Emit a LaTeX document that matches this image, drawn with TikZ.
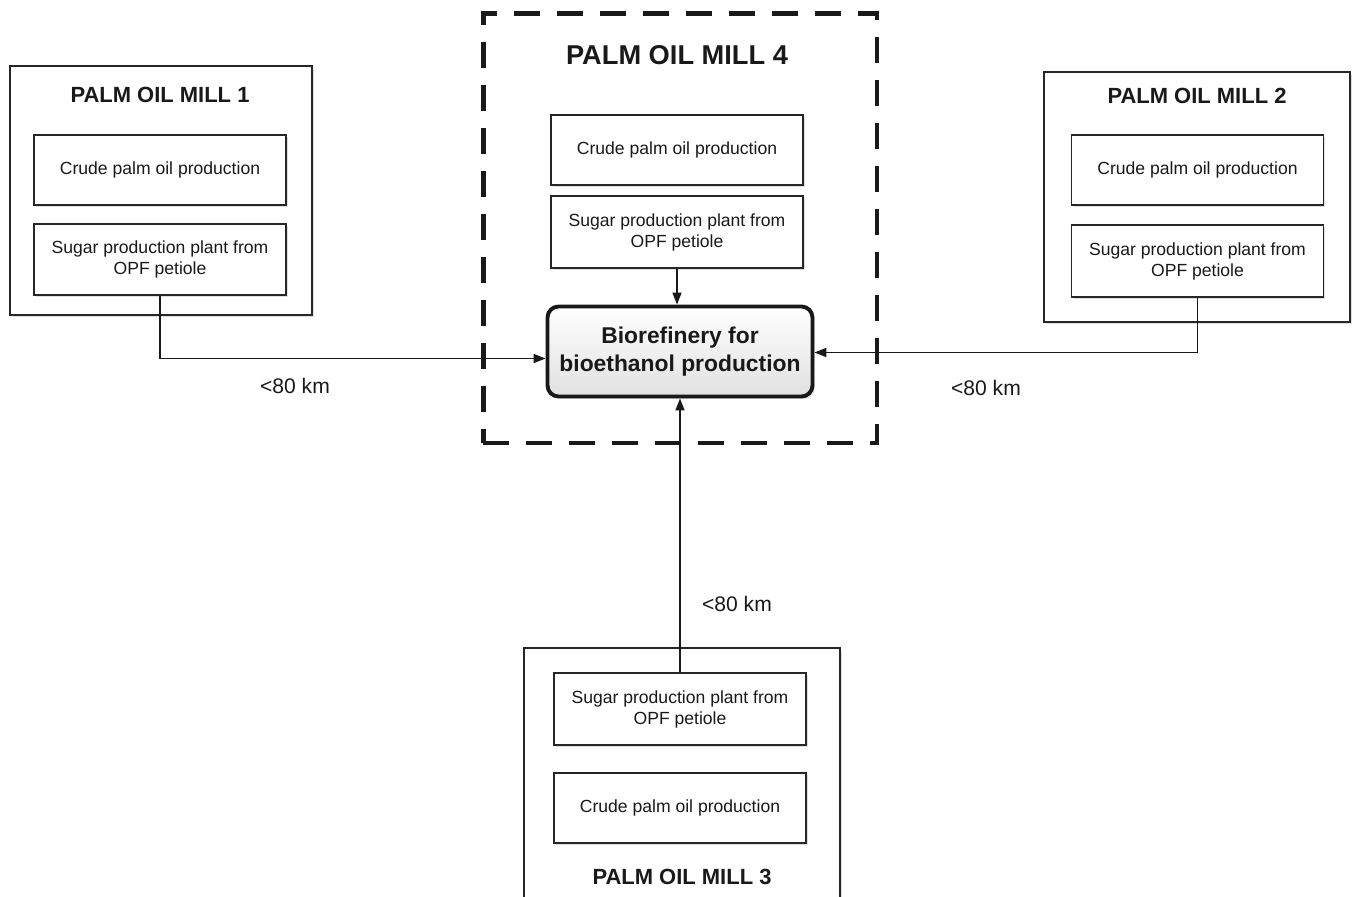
\documentclass[tikz,border=0pt]{standalone}
\usepackage{fontspec}
\setmainfont{Liberation Sans}
\usetikzlibrary{arrows.meta,shadows}

\begin{document}
\begin{tikzpicture}[x=0.02cm,y=-0.02cm]
\tikzset{
    millbox/.style={draw=black!85, line width=0.9pt, fill=white, inner sep=0pt,
        drop shadow={shadow xshift=0.05cm, shadow yshift=-0.05cm, opacity=0.25}},
    unitbox/.style={draw=black!85, line width=0.8pt, fill=white, align=center,
        minimum width=5.04cm, minimum height=1.4cm, inner sep=0pt,
        font=\fontsize{10}{12}\selectfont, text=black!90,
        drop shadow={shadow xshift=0.04cm, shadow yshift=-0.04cm, opacity=0.25}},
    millhead/.style={font=\fontsize{12.5}{15}\selectfont\bfseries, text=black!90},
    hubbox/.style={draw=black!90, line width=2.2pt, rounded corners=0.22cm,
        top color=white, bottom color=black!12, align=center,
        minimum width=5.3cm, minimum height=1.8cm, inner sep=0pt,
        font=\fontsize{13}{16}\selectfont\bfseries, text=black!90,
        drop shadow={shadow xshift=0.05cm, shadow yshift=-0.05cm, opacity=0.25}},
    conn/.style={draw=black!90, line width=0.9pt, -{Triangle[length=2.4mm, width=1.8mm]}},
    distlabel/.style={font=\fontsize{12}{14}\selectfont, text=black!90}}

\clip (0,0) rectangle (1352,896);

% mill 1
\node[millbox, minimum width=6.04cm, minimum height=4.98cm] (mill1) at (161,190.5) {};
\node[millhead] (head1) at (160,95) {PALM OIL MILL 1};
\node[unitbox] (cpo1) at (160,170) {Crude palm oil production};
\node[unitbox, minimum height=1.42cm] (sug1) at (160,259.5) {Sugar production plant from\\OPF petiole};

% mill 2
\node[millbox, minimum width=6.12cm, minimum height=5cm] (mill2) at (1197,197) {};
\node[millhead] (head2) at (1197,96) {PALM OIL MILL 2};
\node[unitbox] (cpo2) at (1197.5,170) {Crude palm oil production};
\node[unitbox, minimum height=1.44cm] (sug2) at (1197.5,261) {Sugar production plant from\\OPF petiole};

% mill 3
\node[millbox, minimum width=6.32cm, minimum height=5.3cm] (mill3) at (682,780.5) {};
\node[millhead] (head3) at (682,877) {PALM OIL MILL 3};
\node[unitbox, minimum height=1.44cm] (sug3) at (680,709) {Sugar production plant from\\OPF petiole};
\node[unitbox] (cpo3) at (680,808) {Crude palm oil production};

% mill 4 with the biorefinery
\node[draw=black!90, line width=2.8pt, dash pattern=on 0.52cm off 0.34cm,
    minimum width=7.88cm, minimum height=8.6cm, inner sep=0pt] (mill4) at (680,228) {};
\node[millhead, font=\fontsize{15.5}{18}\selectfont\bfseries] (head4) at (677,55) {PALM OIL MILL 4};
\node[unitbox] (cpo4) at (677,150) {Crude palm oil production};
\node[unitbox, minimum height=1.44cm] (sug4) at (677,232) {Sugar production plant from\\OPF petiole};
\node[hubbox] (bio) at (680,351.5) {Biorefinery for\\bioethanol production};

% transport links
\draw[conn] (sug1.south) |- ([yshift=-0.14cm]bio.west);
\draw[conn] (sug2.south) |- ([yshift=-0.02cm]bio.east);
\draw[conn] (sug3.north) -- (bio.south);
\draw[conn] (sug4.south) -- (sug4.south |- bio.north);

\node[distlabel] (km1) at (295,386) {<80 km};
\node[distlabel] (km2) at (986,388) {<80 km};
\node[distlabel] (km3) at (737,604) {<80 km};

\end{tikzpicture}
\end{document}
